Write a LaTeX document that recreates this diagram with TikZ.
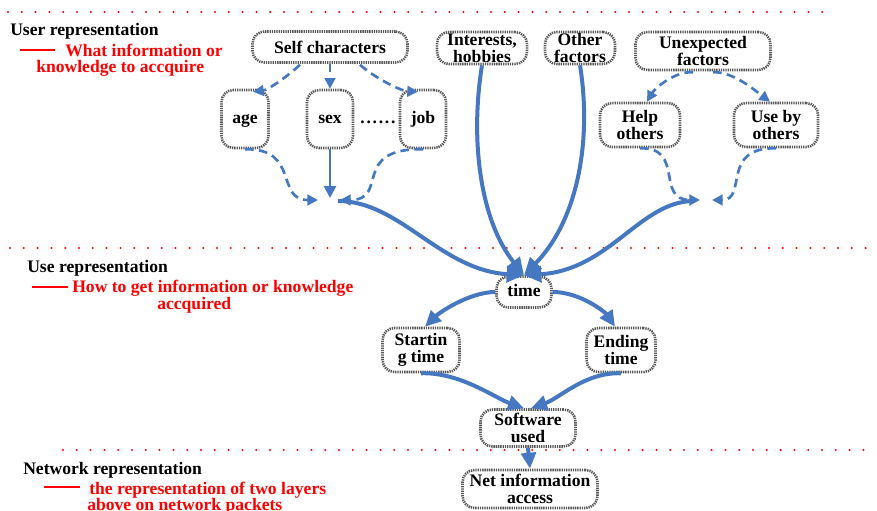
\documentclass[tikz,border=0pt]{standalone}
\usepackage{fontspec}
\setmainfont{Liberation Serif}
\usetikzlibrary{arrows.meta,calc}
\definecolor{cblue}{RGB}{70,120,193}
\definecolor{cred}{RGB}{255,0,0}
\begin{document}
\begin{tikzpicture}[x=0.75pt,y=-0.75pt,
  font=\fontsize{13.2}{12.6}\selectfont\bfseries,
  box/.style={draw=black!65, line width=1.9pt, dash pattern=on 1pt off 0.7pt, rounded corners=9pt, fill=white, align=center, inner sep=0pt},
  oneline/.style={text height=6.5pt, text depth=0pt},
  lbl/.style={anchor=base west, inner sep=0pt},
  redlbl/.style={lbl, text=cred},
  reddots/.style={cred, line width=1.7pt, line cap=round, dash pattern=on 0pt off 10.35pt},
  redrule/.style={cred, line width=0.8pt},
  bigarr/.style={cblue, line width=3pt, -{Triangle[length=13pt,width=12pt]}},
  medarr/.style={cblue, line width=3pt, -{Triangle[length=12pt,width=11pt]}},
  thinarr/.style={cblue, line width=2pt, -{Triangle[length=9pt,width=9pt]}},
  dasharr/.style={cblue, line width=2pt, dash pattern=on 6.5pt off 4pt, -{Triangle[length=8pt,width=8pt]}}
]
\useasboundingbox (0,0) rectangle (877,510);
\clip (0,0) rectangle (877,510);

% dotted separators
\draw[reddots] (8,12) -- (826,12);
\draw[reddots] (10,248) -- (877,248);
\draw[reddots] (63,450) -- (877,450);

% left labels
\node[lbl] (ur) at (10,36) {User representation};
\draw[redrule] (20,50) -- (55,50);
\node[redlbl] (ur1) at (65,56) {What information or};
\node[redlbl] (ur2) at (36,73) {knowledge to accquire};

\node[lbl] (usr) at (27,272) {Use representation};
\draw[redrule] (32,287) -- (68,287);
\node[redlbl] (usr1) at (72,292) {How to get information or knowledge};
\node[redlbl] (usr2) at (157,309) {accquired};

\node[lbl] (nr) at (23,474) {Network representation};
\draw[redrule] (44,487) -- (80,487);
\node[redlbl] (nr1) at (89,494) {the representation of two layers};
\node[redlbl] (nr2) at (87,510.5) {above on network packets};

% nodes
\node[box, minimum width=116.25pt, minimum height=23.25pt] (self) at (330,47) {Self characters};
\node[box, minimum width=67.5pt, minimum height=24pt] (interests) at (482,48) {Interests,\\hobbies};
\node[box, minimum width=52.5pt, minimum height=24pt] (other) at (580,48) {Other\\factors};
\node[box, minimum width=101.25pt, minimum height=28.5pt] (unexp) at (703,51) {Unexpected\\factors};
\node[box, oneline, minimum width=35.25pt, minimum height=43.5pt] (age) at (245,119) {age};
\node[box, oneline, minimum width=34.5pt, minimum height=43.5pt] (sex) at (330,119) {sex};
\node[box, oneline, minimum width=34.5pt, minimum height=43.5pt] (job) at (423,119) {job};
\node[inner sep=0pt, oneline] (dots) at (378,119) {.\kern1.3pt.\kern1.3pt.\kern1.3pt.\kern1.3pt.\kern1.3pt.};
\node[box, minimum width=60pt, minimum height=33pt] (help) at (640,125) {Help\\others};
\node[box, minimum width=63pt, minimum height=33pt] (useby) at (776,125) {Use by\\others};
\node[box, oneline, minimum width=41.25pt, minimum height=23.25pt] (time) at (524,292) {time};
\node[box, minimum width=57.75pt, minimum height=33pt] (start) at (421,350) {Startin\\g time};
\node[box, minimum width=51.75pt, minimum height=33pt] (ending) at (621,350) {Ending\\time};
\node[box, minimum width=71.25pt, minimum height=27.75pt] (soft) at (528,428) {Software\\used};
\node[box, minimum width=101.25pt, minimum height=28.5pt] (net) at (530,489) {Net information\\access};

\coordinate (jl) at (330,200);
\coordinate (jr) at (706,200);

% user representation connectors
\draw[dasharr] ($(self.south)+(-30,1)$) .. controls (288,76) and (268,90) .. ($(age.north)+(8,3)$);
\draw[dasharr] (self.south) -- (sex.north);
\draw[dasharr] ($(self.south)+(30,1)$) .. controls (372,76) and (400,91) .. ($(job.north)+(-5,3)$);
\draw[thinarr] (sex.south) -- ($(jl)+(0,-2)$);
\draw[dasharr] (age.south) .. controls (300,148) and (275,200) .. ($(jl)+(-12,0)$);
\draw[dasharr] (job.south) .. controls (350,148) and (390,200) .. ($(jl)+(10,0)$);

\draw[dasharr] ($(unexp.south)+(-10,1)$) .. controls (675,71) and (655,88) .. ($(help.north)+(7,0)$);
\draw[dasharr] ($(unexp.south)+(10,1)$) .. controls (733,71) and (757,92) .. ($(useby.north)+(-6,0)$);
\draw[dasharr] (help.south) .. controls (685,147) and (655,200) .. ($(jr)+(-6,0)$);
\draw[dasharr] (useby.south) .. controls (720,147) and (748,200) .. ($(jr)+(6,0)$);

% to time
\draw[bigarr] ($(jl)+(8,1)$) .. controls (400,201) and (440,270) .. (time.north);
\draw[bigarr] (interests.south) .. controls (470,140) and (480,220) .. (time.north);
\draw[bigarr] (other.south) .. controls (592,140) and (578,220) .. (time.north);
\draw[bigarr] ($(jr)+(-12,1)$) .. controls (640,201) and (610,270) .. (time.north);

% use representation
\draw[medarr] (time.west) .. controls (470,292) and (440,312) .. ($(start.north)+(4,0)$);
\draw[medarr] (time.east) .. controls (580,292) and (605,312) .. ($(ending.north)+(-6,0)$);
\draw[medarr] (start.south) .. controls (460,372) and (495,398) .. ($(soft.north)+(-4,0)$);
\draw[medarr] (ending.south) .. controls (585,372) and (560,398) .. ($(soft.north)+(3,0)$);
\draw[medarr] (soft.south) -- (net.north);
\end{tikzpicture}
\end{document}
